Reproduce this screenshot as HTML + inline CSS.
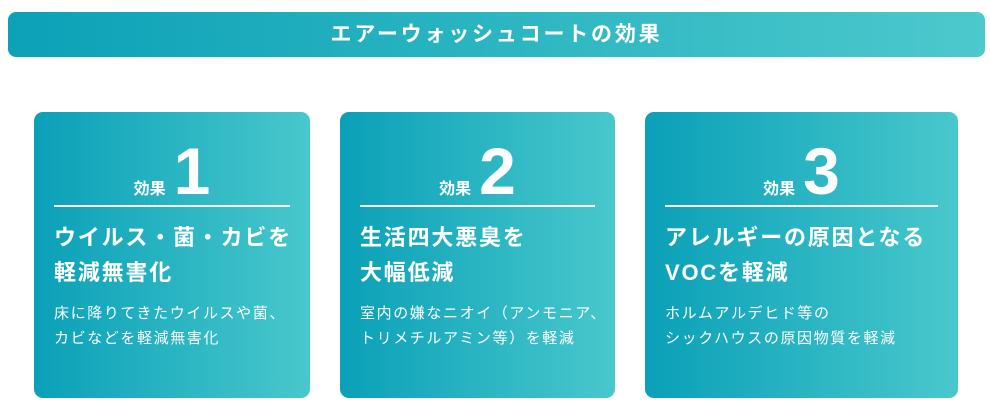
<!DOCTYPE html>
<html><head><meta charset="utf-8"><style>
body{margin:0;width:990px;height:409px;background:#fff;position:relative;overflow:hidden;font-family:"Liberation Sans","Noto Sans CJK JP",sans-serif;color:#fff}
.hd{position:absolute;left:8px;top:12px;width:977px;height:45px;border-radius:8px;background:linear-gradient(90deg,#0ba1b7,#4cc9cc);text-align:center;line-height:45px;font-size:21px;font-weight:bold;letter-spacing:2.8px}
.c{position:absolute;top:112px;height:286px;border-radius:9px;background:linear-gradient(90deg,#0aa0b8,#48c8cc)}
.n{position:absolute;top:28px;left:0;right:0;text-align:center;height:62px}
.n span.k{font-size:16px;font-weight:bold;vertical-align:baseline}
.n span.d{font-size:66px;font-weight:bold;line-height:62px;margin-left:8px;font-family:"Liberation Sans",sans-serif}
.ln{position:absolute;left:20px;right:20px;top:93px;height:2px;background:#fff}
.t{position:absolute;left:20px;top:108px;font-size:22px;font-weight:bold;line-height:35px;letter-spacing:1.8px;white-space:nowrap}
.s{position:absolute;left:20px;top:189px;font-size:15px;line-height:25px;letter-spacing:1.6px;white-space:nowrap}
</style></head><body>
<div class="hd">エアーウォッシュコートの効果</div>
<div class="c" style="left:34px;width:276px"><div class="n"><span class="k">効果</span><span class="d">1</span></div><div class="ln"></div><div class="t">ウイルス・菌・カビを<br>軽減無害化</div><div class="s">床に降りてきたウイルスや菌、<br>カビなどを軽減無害化</div></div>
<div class="c" style="left:340px;width:275px"><div class="n"><span class="k">効果</span><span class="d">2</span></div><div class="ln"></div><div class="t">生活四大悪臭を<br>大幅低減</div><div class="s">室内の嫌なニオイ（アンモニア、<br>トリメチルアミン等）を軽減</div></div>
<div class="c" style="left:645px;width:313px"><div class="n"><span class="k">効果</span><span class="d">3</span></div><div class="ln"></div><div class="t">アレルギーの原因となる<br>VOCを軽減</div><div class="s">ホルムアルデヒド等の<br>シックハウスの原因物質を軽減</div></div>
</body></html>
